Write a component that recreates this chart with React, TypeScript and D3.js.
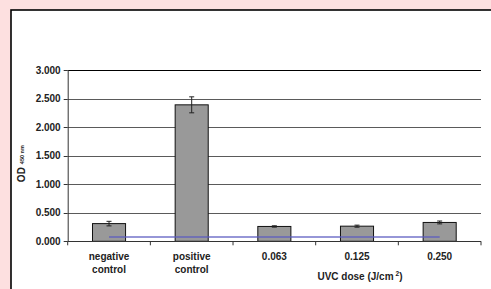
import React from "react";
import * as d3 from "d3";

const categories = ["negative control", "positive control", "0.063", "0.125", "0.250"];
const odValues = [0.31, 2.39, 0.26, 0.265, 0.33];
const odErrors = [0.04, 0.14, 0.012, 0.018, 0.025];
const cutoffValues = [0.075, 0.075, 0.075, 0.075, 0.075];
const yTicks = [0, 0.5, 1, 1.5, 2, 2.5, 3];

const W = 491;
const H = 289;
const left = 67.7;
const right = 481;
const top = 70;
const bottom = 241.3;
const font = "'Liberation Sans', Arial, sans-serif";

export default function App() {
  const y = d3.scaleLinear().domain([0, 3]).range([bottom, top]);
  const xBar = d3
    .scaleBand<string>()
    .domain(categories)
    .range([left, right])
    .paddingInner(0.6)
    .paddingOuter(0.3);
  const xCat = d3.scaleBand<string>().domain(categories).range([left, right]);
  const center = (c: string) => (xCat(c) as number) + xCat.bandwidth() / 2;

  const line = d3
    .line<number>()
    .x((_, i) => center(categories[i]))
    .y((d) => y(d));

  const boundaries = categories.map((c) => xCat(c) as number).concat([right]);

  return (
    <svg
      width={W}
      height={H}
      style={{ position: "fixed", left: 0, top: 0, display: "block" }}
      fontFamily={font}
    >
      <rect x={0} y={0} width={W} height={H} fill="#fde0e0" />
      <rect x={11} y={10} width={W} height={H} fill="#ffffff" stroke="#000" strokeWidth={1.6} />

      {/* gridlines */}
      {yTicks.slice(1).map((t) => (
        <line
          key={t}
          x1={left}
          x2={right}
          y1={Math.round(y(t)) + 0.5}
          y2={Math.round(y(t)) + 0.5}
          stroke={t === 3 ? "#000" : "#5a5a5a"}
          strokeWidth={1}
        />
      ))}

      {/* y axis */}
      <line x1={left + 0.5} x2={left + 0.5} y1={top} y2={bottom} stroke="#333" />
      {yTicks.map((t) => (
        <g key={t}>
          <line x1={left - 4} x2={left} y1={Math.round(y(t)) + 0.5} y2={Math.round(y(t)) + 0.5} stroke="#333" />
          <text
            x={left - 7}
            y={y(t)}
            dy="0.35em"
            textAnchor="end"
            fontSize={10}
            fontWeight="bold"
            fill="#222"
          >
            {d3.format(".3f")(t)}
          </text>
        </g>
      ))}

      {/* bars */}
      {categories.map((c, i) => (
        <rect
          key={c}
          x={xBar(c)}
          y={y(odValues[i])}
          width={xBar.bandwidth()}
          height={bottom - y(odValues[i])}
          fill="#999999"
          stroke="#111"
          strokeWidth={1}
        />
      ))}

      {/* error bars */}
      {categories.map((c, i) => {
        const cx = center(c);
        const hi = y(odValues[i] + odErrors[i]);
        const lo = y(odValues[i] - odErrors[i]);
        return (
          <g key={c} stroke="#222" strokeWidth={1}>
            <line x1={cx} x2={cx} y1={hi} y2={lo} />
            <line x1={cx - 2.5} x2={cx + 2.5} y1={hi} y2={hi} />
            <line x1={cx - 2.5} x2={cx + 2.5} y1={lo} y2={lo} />
          </g>
        );
      })}

      {/* x axis */}
      <line x1={left} x2={right} y1={Math.round(bottom) + 0.5} y2={Math.round(bottom) + 0.5} stroke="#333" />
      {boundaries.map((b, i) => (
        <line key={i} x1={b} x2={b} y1={bottom} y2={bottom + 4} stroke="#333" />
      ))}

      {/* cutoff line */}
      <path d={line(cutoffValues) || ""} fill="none" stroke="#5a5ac0" strokeWidth={1.5} strokeOpacity={0.85} />

      {/* category labels */}
      {categories.map((c) => {
        const parts = c.split(" ");
        return (
          <text key={c} x={center(c)} y={260} textAnchor="middle" fontSize={10} fontWeight="bold" fill="#222">
            {parts.map((p, j) => (
              <tspan key={j} x={center(c)} dy={j === 0 ? 0 : 12.5}>
                {p}
              </tspan>
            ))}
          </text>
        );
      })}

      {/* x title */}
      <text x={360} y={279.5} textAnchor="middle" fontSize={10} fontWeight="bold" fill="#222">
        UVC dose (J/cm
        <tspan fontSize={6.5} dy={-3.5} dx={2}>
          2
        </tspan>
        <tspan dy={3.5}>)</tspan>
      </text>

      {/* y title */}
      <text
        transform={`translate(24.5,${(top + bottom) / 2 + 8}) rotate(-90)`}
        textAnchor="middle"
        fontSize={10}
        fontWeight="bold"
        fill="#222"
      >
        OD
        <tspan fontSize={5.5} dx={3} dy={-1}>
          450 nm
        </tspan>
      </text>
    </svg>
  );
}
